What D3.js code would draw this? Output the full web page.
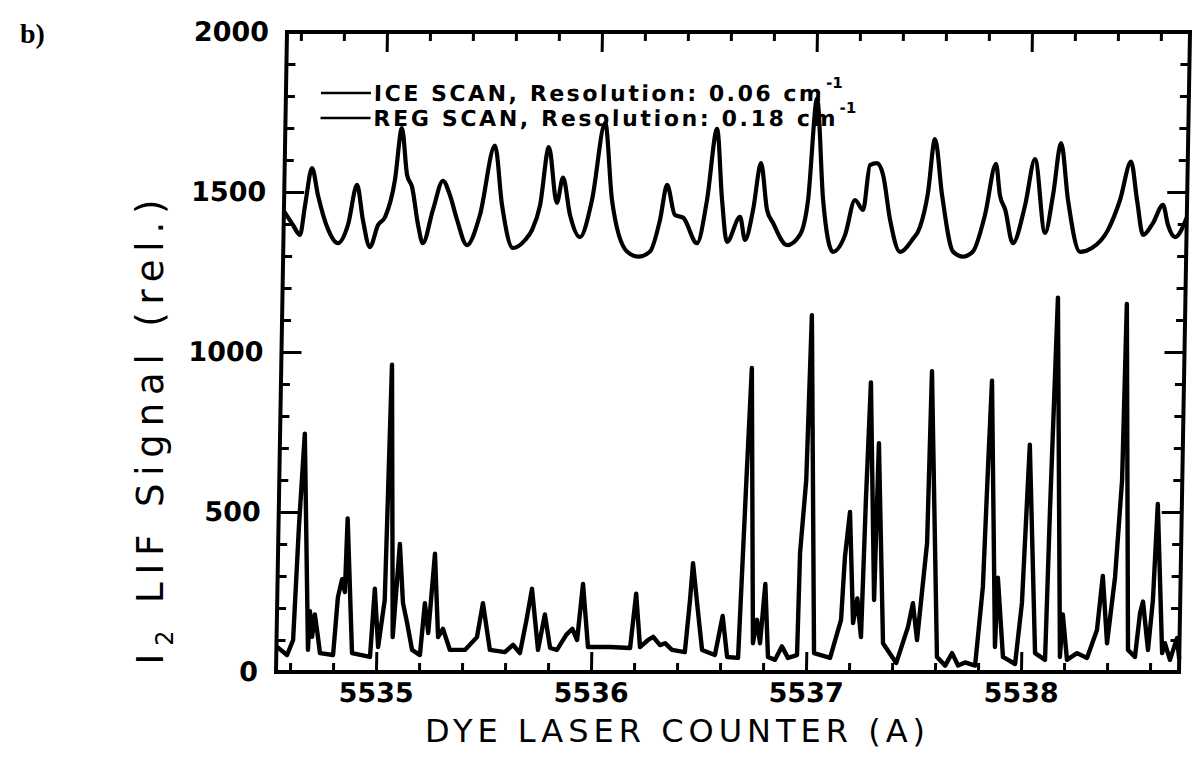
<!DOCTYPE html>
<html>
<head>
<meta charset="utf-8">
<script src="https://cdn.jsdelivr.net/npm/d3@7"></script>
<style>
  body { margin: 0; background: #fff; }
</style>
</head>
<body>
<svg id="chart"></svg>
<script>
// lower trace: ICE scan (high resolution), wavelength in A and signal
const iceWave = [5534.535, 5534.585, 5534.612, 5534.630, 5534.650, 5534.682, 5534.688, 5534.700, 5534.711, 5534.725,
  5534.738, 5534.799, 5534.817, 5534.835, 5534.849, 5534.856, 5534.887, 5534.971, 5534.988, 5535.008,
  5535.035, 5535.050, 5535.075, 5535.101, 5535.120, 5535.141, 5535.166, 5535.203, 5535.222, 5535.240,
  5535.265, 5535.286, 5535.308, 5535.342, 5535.412, 5535.467, 5535.492, 5535.528, 5535.598, 5535.635,
  5535.668, 5535.696, 5535.719, 5535.752, 5535.781, 5535.808, 5535.840, 5535.882, 5535.910, 5535.933,
  5535.956, 5535.984, 5536.087, 5536.180, 5536.204, 5536.226, 5536.263, 5536.286, 5536.319, 5536.342,
  5536.375, 5536.435, 5536.455, 5536.466, 5536.492, 5536.515, 5536.575, 5536.608, 5536.632, 5536.683,
  5536.709, 5536.724, 5536.751, 5536.768, 5536.784, 5536.804, 5536.822, 5536.855, 5536.886, 5536.915,
  5536.957, 5536.963, 5536.986, 5536.999, 5537.036, 5537.111, 5537.159, 5537.172, 5537.192, 5537.215,
  5537.233, 5537.253, 5537.265, 5537.279, 5537.311, 5537.321, 5537.356, 5537.419, 5537.471, 5537.492,
  5537.514, 5537.553, 5537.562, 5537.608, 5537.647, 5537.678, 5537.707, 5537.739, 5537.786, 5537.816,
  5537.830, 5537.842, 5537.877, 5537.885, 5537.915, 5537.972, 5537.999, 5538.023, 5538.064, 5538.111,
  5538.122, 5538.142, 5538.180, 5538.190, 5538.213, 5538.259, 5538.306, 5538.350, 5538.373, 5538.398,
  5538.430, 5538.455, 5538.463, 5538.496, 5538.529, 5538.549, 5538.562, 5538.589, 5538.608, 5538.623,
  5538.655, 5538.667, 5538.692, 5538.723, 5538.735];
const iceSignal = [80, 53, 100, 453, 745, 69, 190, 110, 180, 120,
  59, 53, 234, 290, 250, 480, 59, 47, 260, 78,
  225, 960, 109, 400, 216, 153, 69, 53, 215, 122,
  370, 109, 135, 69, 69, 109, 215, 69, 62, 85,
  59, 163, 260, 69, 180, 75, 69, 116, 135, 100,
  275, 78, 78, 75, 245, 78, 100, 110, 84, 90,
  69, 62, 225, 340, 194, 69, 53, 175, 47, 44,
  631, 950, 90, 163, 90, 275, 47, 38, 80, 44,
  53, 372, 600, 1115, 59, 44, 163, 359, 500, 153,
  230, 109, 538, 905, 225, 715, 90, 28, 141, 215,
  100, 403, 940, 47, 20, 59, 20, 30, 20, 266,
  631, 910, 78, 295, 47, 25, 216, 710, 59, 38,
  506, 1170, 47, 180, 38, 59, 44, 131, 300, 90,
  297, 600, 1150, 69, 47, 184, 220, 69, 225, 525,
  59, 90, 38, 106, 40];

// upper trace: REG scan (low resolution)
const regWave = [5534.535, 5534.578, 5534.612, 5534.633, 5534.662, 5534.692, 5534.737, 5534.789, 5534.834, 5534.873,
  5534.903, 5534.938, 5534.974, 5535.006, 5535.049, 5535.077, 5535.105, 5535.129, 5535.160, 5535.184,
  5535.228, 5535.272, 5535.306, 5535.341, 5535.389, 5535.447, 5535.511, 5535.549, 5535.603, 5535.659,
  5535.690, 5535.726, 5535.762, 5535.804, 5535.830, 5535.866, 5535.914, 5535.967, 5536.022, 5536.060,
  5536.134, 5536.188, 5536.241, 5536.285, 5536.315, 5536.354, 5536.392, 5536.459, 5536.502, 5536.543,
  5536.572, 5536.598, 5536.657, 5536.682, 5536.717, 5536.750, 5536.782, 5536.811, 5536.878, 5536.937,
  5536.972, 5537.005, 5537.042, 5537.092, 5537.147, 5537.190, 5537.229, 5537.257, 5537.289, 5537.319,
  5537.355, 5537.404, 5537.459, 5537.495, 5537.529, 5537.557, 5537.595, 5537.650, 5537.697, 5537.743,
  5537.796, 5537.843, 5537.864, 5537.890, 5537.928, 5537.982, 5538.024, 5538.077, 5538.111, 5538.144,
  5538.181, 5538.241, 5538.296, 5538.369, 5538.423, 5538.471, 5538.502, 5538.533, 5538.578, 5538.623,
  5538.648, 5538.682, 5538.735];
const regSignal = [1440, 1397, 1366, 1459, 1575, 1490, 1391, 1340, 1397, 1522,
  1413, 1328, 1397, 1422, 1538, 1700, 1553, 1516, 1397, 1340,
  1444, 1535, 1490, 1413, 1334, 1428, 1645, 1459, 1325, 1350,
  1381, 1459, 1640, 1466, 1545, 1428, 1359, 1475, 1716, 1475,
  1314, 1298, 1314, 1413, 1522, 1428, 1420, 1340, 1475, 1697,
  1475, 1344, 1422, 1350, 1444, 1590, 1444, 1403, 1334, 1366,
  1475, 1792, 1475, 1313, 1366, 1475, 1444, 1584, 1590, 1553,
  1413, 1313, 1350, 1391, 1497, 1665, 1490, 1314, 1298, 1314,
  1428, 1588, 1490, 1444, 1340, 1459, 1603, 1372, 1490, 1653,
  1475, 1313, 1325, 1381, 1475, 1595, 1475, 1366, 1403, 1460,
  1397, 1359, 1420];

const xMajor = [5535, 5536, 5537, 5538];
const yMajor = [0, 500, 1000, 1500, 2000];
const legendNames = ["ICE SCAN, Resolution: 0.06 cm", "REG SCAN, Resolution: 0.18 cm"];

const width = 1192, height = 758;
const frame = {left: 287, right: 1190, top: 32, bottom: 672};
const font = "'DejaVu Sans', sans-serif";

const svg = d3.select("#chart")
    .attr("width", width)
    .attr("height", height)
    .style("display", "block")
    .style("background", "#fff");

/* the scanned figure leans a little, so the plot is skewed about its top edge */
const plot = svg.append("g")
    .attr("transform", `translate(0,${frame.top}) skewX(-0.985) translate(0,${-frame.top})`);

const x = d3.scaleLinear()
    .domain([iceWave[0], iceWave[iceWave.length - 1]])
    .range([frame.left, frame.right]);
const y = d3.scaleLinear()
    .domain([0, 2000])
    .range([frame.bottom, frame.top]);

const xMinor = d3.range(0, 21).map(i => 5534.6 + 0.2 * i).filter(v => xMajor.every(m => Math.abs(m - v) > 0.01));
const yMinor = d3.range(0, 2001, 100).filter(v => v % 500 !== 0);

/* ticks all point into the frame */
const tickStyle = g => {
    g.select(".domain").remove();
    g.selectAll(".tick line").attr("stroke", "#000").attr("stroke-width", 3);
    g.attr("font-family", font).attr("font-size", 27).attr("font-weight", "bold");
    g.selectAll(".tick text").attr("fill", "#000");
};

const sides = [
    {axis: d3.axisBottom, at: `translate(0,${frame.bottom})`, scale: x, minor: xMinor, major: xMajor, labels: true},
    {axis: d3.axisTop, at: `translate(0,${frame.top})`, scale: x, minor: xMinor, major: xMajor, labels: false},
    {axis: d3.axisLeft, at: `translate(${frame.left},0)`, scale: y, minor: yMinor, major: yMajor, labels: true},
    {axis: d3.axisRight, at: `translate(${frame.right},0)`, scale: y, minor: yMinor, major: yMajor, labels: false}
];
sides.forEach(s => {
    plot.append("g").attr("transform", s.at)
        .call(s.axis(s.scale).tickValues(s.minor).tickSize(-9).tickFormat(""))
        .call(tickStyle);
    plot.append("g").attr("transform", s.at)
        .call(s.axis(s.scale).tickValues(s.major).tickSize(-20)
            .tickPadding(s.axis === d3.axisLeft ? 18 : 11)
            .tickFormat(s.labels ? d3.format("d") : ""))
        .call(tickStyle);
});

plot.append("rect")
    .attr("x", frame.left)
    .attr("y", frame.top)
    .attr("width", frame.right - frame.left)
    .attr("height", frame.bottom - frame.top)
    .attr("fill", "none")
    .attr("stroke", "#000")
    .attr("stroke-width", 4);

/* legend */
const legend = plot.append("g").attr("font-family", font).attr("font-weight", "bold");
const legendY = [93, 118];
const legendLen = [448, 462];
legendNames.forEach((name, i) => {
    legend.append("line")
        .attr("x1", 322).attr("x2", 372)
        .attr("y1", legendY[i]).attr("y2", legendY[i])
        .attr("stroke", "#000").attr("stroke-width", 2.5);
    legend.append("text")
        .attr("x", 375).attr("y", legendY[i] + 8)
        .attr("font-size", 22)
        .attr("textLength", legendLen[i])
        .attr("lengthAdjust", "spacing")
        .text(name);
    legend.append("text")
        .attr("x", 375 + legendLen[i] + 4).attr("y", legendY[i] - 5)
        .attr("font-size", 15)
        .text("-1");
});

/* the two traces */
const pairs = (w, s) => w.map((d, i) => [d, s[i]]);
const line = d3.line()
    .x(d => x(d[0]))
    .y(d => y(d[1]));

plot.append("path")
    .datum(pairs(regWave, regSignal))
    .attr("d", line.curve(d3.curveMonotoneX))
    .attr("fill", "none")
    .attr("stroke", "#000")
    .attr("stroke-width", 4.2)
    .attr("stroke-linejoin", "round");

plot.append("path")
    .datum(pairs(iceWave, iceSignal))
    .attr("d", line.curve(d3.curveLinear))
    .attr("fill", "none")
    .attr("stroke", "#000")
    .attr("stroke-width", 4.4)
    .attr("stroke-linejoin", "round");

/* titles */
svg.append("text")
    .attr("x", 675).attr("y", 742)
    .attr("text-anchor", "middle")
    .attr("font-family", font)
    .attr("font-size", 32)
    .attr("textLength", 500)
    .attr("lengthAdjust", "spacing")
    .text("DYE LASER COUNTER (A)");

const yTitle = svg.append("text")
    .attr("transform", "translate(163,432) rotate(-90)")
    .attr("text-anchor", "middle")
    .attr("font-family", font)
    .attr("font-size", 37)
    .attr("textLength", 465)
    .attr("lengthAdjust", "spacing");
yTitle.append("tspan").text("I");
yTitle.append("tspan").attr("dy", 10).attr("font-size", 24).text("2");
yTitle.append("tspan").attr("dy", -10).text(" LIF Signal (rel.)");

svg.append("text")
    .attr("x", 20).attr("y", 43)
    .attr("font-family", "'Liberation Serif', serif")
    .attr("font-weight", "bold")
    .attr("font-size", 28)
    .text("b)");
</script>
</body>
</html>
